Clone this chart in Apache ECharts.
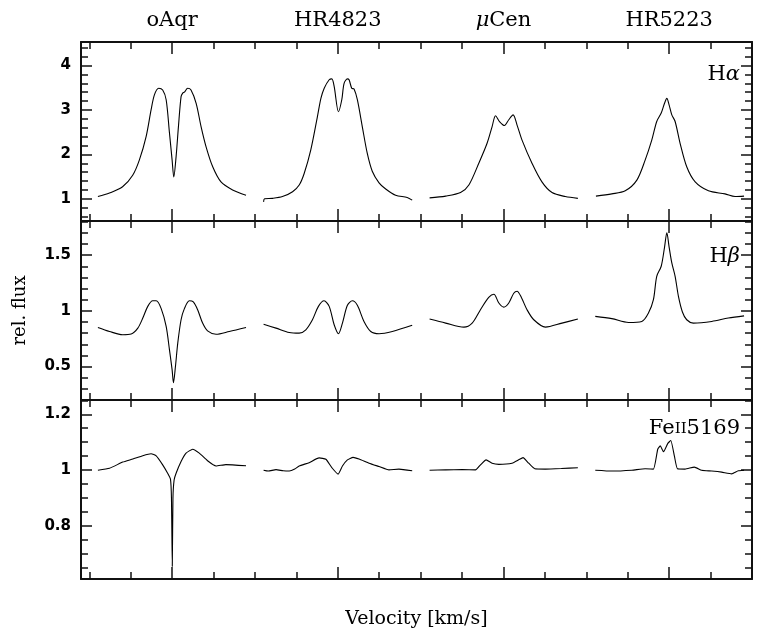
<!DOCTYPE html>
<html><head><meta charset="utf-8">
<script src="https://cdn.jsdelivr.net/npm/echarts@6/dist/echarts.min.js"></script>
<style>html,body{margin:0;padding:0;background:#fff}#c{width:760px;height:630px}</style>
</head><body><div id="c"></div>
<script>
// ---- categories ----
const stars = ['oAqr', 'HR4823', 'μCen', 'HR5223'];
const starLabels = ['oAqr', 'HR4823', '{mu|μ}Cen', 'HR5223'];
const starOffsets = [0, 1000, 2000, 3000];           // velocity offset of each star window (km/s)
const lineNames = ['Hα', 'Hβ', 'FeII5169'];
const lineLabels = ['H{g|α}', 'H{g|β}', 'Fe{s|II}5169'];

// ---- tick values ----
const xMinorTicks = [-500,-250,0,250,500,750,1000,1250,1500,1750,2000,2250,2500,2750,3000,3250,3500];
const xMajorTicks = [0,1000,2000,3000];
const haMajor = [1,2,3,4];
const haMinor = [0.6,0.8,1,1.2,1.4,1.6,1.8,2,2.2,2.4,2.6,2.8,3,3.2,3.4,3.6,3.8,4,4.2,4.4];
const hbMajor = [0.5,1,1.5];
const hbMinor = [0.3,0.4,0.5,0.6,0.7,0.8,0.9,1,1.1,1.2,1.3,1.4,1.5,1.6,1.7,1.8];
const feMajor = [0.8,1,1.2];
const feMinor = [0.65,0.7,0.75,0.8,0.85,0.9,0.95,1,1.05,1.1,1.15,1.2,1.25];

// ---- H alpha ----
const oAqr_Ha_v = [-448,-378,-299,-238,-198,-157,-127,-107,-81,-57,-36,-16,0,10,24,38,54,64,74,94,114,145,175,205,245,295,365,446];
const oAqr_Ha_f = [1.05,1.13,1.27,1.53,1.87,2.40,3.00,3.34,3.49,3.45,3.23,2.48,1.87,1.49,1.95,2.62,3.30,3.38,3.40,3.49,3.45,3.15,2.62,2.17,1.72,1.38,1.20,1.08];
const HR4823_Ha_v = [-448,-442,-394,-334,-273,-233,-203,-163,-123,-102,-82,-52,-36,-22,4,24,38,58,68,84,98,118,148,178,208,249,289,349,419,449];
const HR4823_Ha_f = [0.93,1.00,1.01,1.05,1.16,1.31,1.57,2.10,2.85,3.26,3.49,3.68,3.70,3.53,2.96,3.23,3.60,3.70,3.68,3.49,3.47,3.23,2.62,2.02,1.62,1.36,1.22,1.08,1.03,0.97];
const muCen_Ha_v = [-446,-349,-259,-209,-149,-99,-69,-48,-24,6,32,58,82,112,172,232,293,373,449];
const muCen_Ha_f = [1.02,1.06,1.14,1.31,1.80,2.25,2.62,2.87,2.74,2.65,2.78,2.89,2.66,2.32,1.80,1.38,1.14,1.05,1.01];
const HR5223_Ha_v = [-442,-346,-265,-195,-145,-105,-75,-48,-28,-14,0,16,36,66,106,157,237,337,398,452];
const HR5223_Ha_f = [1.06,1.11,1.18,1.42,1.87,2.32,2.74,2.93,3.15,3.26,3.11,2.89,2.74,2.25,1.72,1.38,1.18,1.11,1.05,1.06];

// ---- H beta ----
const oAqr_Hb_v = [-448,-378,-298,-247,-207,-177,-147,-117,-96,-66,-36,-16,0,8,20,34,54,74,104,128,154,184,214,265,345,446];
const oAqr_Hb_f = [0.851,0.815,0.786,0.792,0.845,0.935,1.04,1.09,1.09,1.02,0.86,0.65,0.47,0.355,0.50,0.71,0.92,1.02,1.09,1.08,1.01,0.89,0.82,0.79,0.815,0.851];
const HR4823_Hb_v = [-448,-373,-293,-233,-193,-153,-117,-83,-52,-22,4,28,58,88,118,158,199,249,329,449];
const HR4823_Hb_f = [0.88,0.845,0.806,0.80,0.83,0.92,1.04,1.09,1.04,0.875,0.795,0.89,1.05,1.09,1.05,0.905,0.815,0.795,0.815,0.87];
const muCen_Hb_v = [-446,-349,-239,-189,-139,-89,-58,-28,2,32,62,82,108,142,183,253,353,449];
const muCen_Hb_f = [0.926,0.89,0.854,0.89,1.01,1.12,1.149,1.07,1.033,1.07,1.158,1.176,1.12,1.01,0.92,0.854,0.89,0.926];
const HR5223_Hb_v = [-446,-346,-245,-165,-125,-95,-75,-48,-28,-14,0,16,36,56,80,106,146,257,357,452];
const HR5223_Hb_f = [0.95,0.93,0.896,0.905,0.98,1.10,1.31,1.40,1.57,1.70,1.57,1.43,1.31,1.13,0.99,0.92,0.89,0.905,0.935,0.955];

// ---- Fe II 5169 ----
const oAqr_Fe_v = [-448,-378,-298,-237,-177,-127,-96,-57,-27,-10,-4,1,5,12,24,54,84,124,164,214,265,325,446];
const oAqr_Fe_f = [1.00,1.007,1.029,1.04,1.052,1.059,1.051,1.019,0.989,0.968,0.90,0.656,0.90,0.965,0.989,1.031,1.061,1.075,1.061,1.034,1.015,1.02,1.016];
const HR4823_Fe_v = [-448,-420,-373,-330,-293,-260,-233,-173,-113,-72,-33,2,28,58,92,128,189,249,309,369,449];
const HR4823_Fe_f = [1.00,0.997,1.002,0.998,0.997,1.004,1.015,1.027,1.044,1.039,1.007,0.986,1.015,1.037,1.046,1.040,1.025,1.013,1.001,1.004,0.998];
const muCen_Fe_v = [-446,-349,-249,-169,-139,-105,-69,-28,52,92,118,152,189,253,349,449];
const muCen_Fe_f = [1.00,1.001,1.002,1.001,1.019,1.037,1.025,1.021,1.025,1.037,1.045,1.025,1.005,1.004,1.006,1.009];
const HR5223_Fe_v = [-446,-346,-225,-145,-95,-69,-54,-34,-8,10,32,50,96,152,196,257,317,377,417,452];
const HR5223_Fe_f = [1.00,0.997,1.00,1.005,1.004,1.075,1.087,1.066,1.096,1.106,1.049,1.005,1.004,1.011,1.00,0.997,0.993,0.987,0.998,1.00];

const profiles = [
  [[oAqr_Ha_v,oAqr_Ha_f],[HR4823_Ha_v,HR4823_Ha_f],[muCen_Ha_v,muCen_Ha_f],[HR5223_Ha_v,HR5223_Ha_f]],
  [[oAqr_Hb_v,oAqr_Hb_f],[HR4823_Hb_v,HR4823_Hb_f],[muCen_Hb_v,muCen_Hb_f],[HR5223_Hb_v,HR5223_Hb_f]],
  [[oAqr_Fe_v,oAqr_Fe_f],[HR4823_Fe_v,HR4823_Fe_f],[muCen_Fe_v,muCen_Fe_f],[HR5223_Fe_v,HR5223_Fe_f]]
];
const yRanges = [[0.5,4.53],[0.2,1.806],[0.611,1.251]];
const yMajors = [haMajor, hbMajor, feMajor];
const yMinors = [haMinor, hbMinor, feMinor];

const panelTops = [42, 221, 400];
const panelH = 179;
const labelCenters = [75, 257, 429];

const ink = '#111';
const serif = 'DejaVu Serif';

const grid = panelTops.map(t => ({left: 81, right: 8, top: t, height: panelH, containLabel: false}));
const xAxis = [];
const yAxis = [];
panelTops.forEach((t, i) => {
  const base = {type: 'value', gridIndex: i, min: -550, max: 3500, splitLine: {show: false},
    axisLabel: {show: false}};
  const mk = (pos, ticks, len, line) => Object.assign({}, base, {
    position: pos,
    axisLine: {show: line, onZero: false, lineStyle: {color: ink, width: 2}},
    axisTick: {show: true, inside: true, length: len, customValues: ticks, lineStyle: {color: ink, width: 1.5}}
  });
  const xb = mk('bottom', xMinorTicks, 7, true);
  if (i === 2) {
    xb.name = 'Velocity [km/s]';
    xb.nameLocation = 'middle';
    xb.nameGap = 31;
    xb.nameTextStyle = {fontFamily: serif, fontSize: 19, color: '#000'};
  }
  xAxis.push(xb);
  xAxis.push(mk('bottom', xMajorTicks, 12, false));
  xAxis.push(mk('top', xMinorTicks, 7, true));
  const xtm = mk('top', xMajorTicks, 12, false);
  if (i === 0) {
    xtm.axisLabel = {show: true, customValues: xMajorTicks, margin: 11,
      formatter: v => starLabels[starOffsets.indexOf(v)],
      fontFamily: serif, fontSize: 21, color: '#000',
      rich: {mu: {fontFamily: serif, fontSize: 21, fontStyle: 'italic', color: '#000'}}};
  }
  xAxis.push(xtm);

  const ybase = {type: 'value', gridIndex: i, min: yRanges[i][0], max: yRanges[i][1], splitLine: {show: false},
    axisLabel: {show: false}};
  const mky = (pos, ticks, len, line) => Object.assign({}, ybase, {
    position: pos,
    axisLine: {show: line, onZero: false, lineStyle: {color: ink, width: 2}},
    axisTick: {show: true, inside: true, length: len, customValues: ticks, lineStyle: {color: ink, width: 1.5}}
  });
  const yl = mky('left', yMajors[i], 11, true);
  yl.axisLabel = {show: true, customValues: yMajors[i], margin: 10, fontFamily: 'DejaVu Sans',
    fontWeight: 'bold', fontSize: 15, color: '#000'};
  if (i === 1) {
    yl.name = 'rel. flux';
    yl.nameLocation = 'middle';
    yl.nameGap = 52;
    yl.nameTextStyle = {fontFamily: serif, fontSize: 18, color: '#000'};
  }
  yAxis.push(yl);
  yAxis.push(mky('left', yMinors[i], 7, false));
  yAxis.push(mky('right', yMajors[i], 11, true));
  yAxis.push(mky('right', yMinors[i], 7, false));
});

const series = [];
profiles.forEach((row, i) => {
  row.forEach((p, j) => {
    series.push({
      type: 'line', name: stars[j] + ' ' + lineNames[i],
      xAxisIndex: i * 4, yAxisIndex: i * 4,
      data: p[0].map((v, k) => [v + starOffsets[j], p[1][k]]),
      showSymbol: false, symbol: 'none', smooth: i === 2 ? 0.15 : 0.3,
      lineStyle: {color: '#000', width: 1.1}, silent: true, animation: false
    });
  });
});

const title = lineLabels.map((t, i) => ({
  text: t, right: 20, top: labelCenters[i] - 12, padding: 0,
  textStyle: {fontFamily: serif, fontSize: 21, fontWeight: 'normal', color: '#000', lineHeight: 24,
    rich: {
      g: {fontFamily: serif, fontSize: 21, fontStyle: 'italic', color: '#000', lineHeight: 24},
      s: {fontFamily: serif, fontSize: 15, color: '#000', lineHeight: 24, verticalAlign: 'bottom', padding: [0,0,4,0]}
    }}
}));

const chart = echarts.init(document.getElementById('c'), null, {renderer: 'canvas'});
chart.setOption({animation: false, backgroundColor: '#fff', title, grid, xAxis, yAxis, series});
</script></body></html>
